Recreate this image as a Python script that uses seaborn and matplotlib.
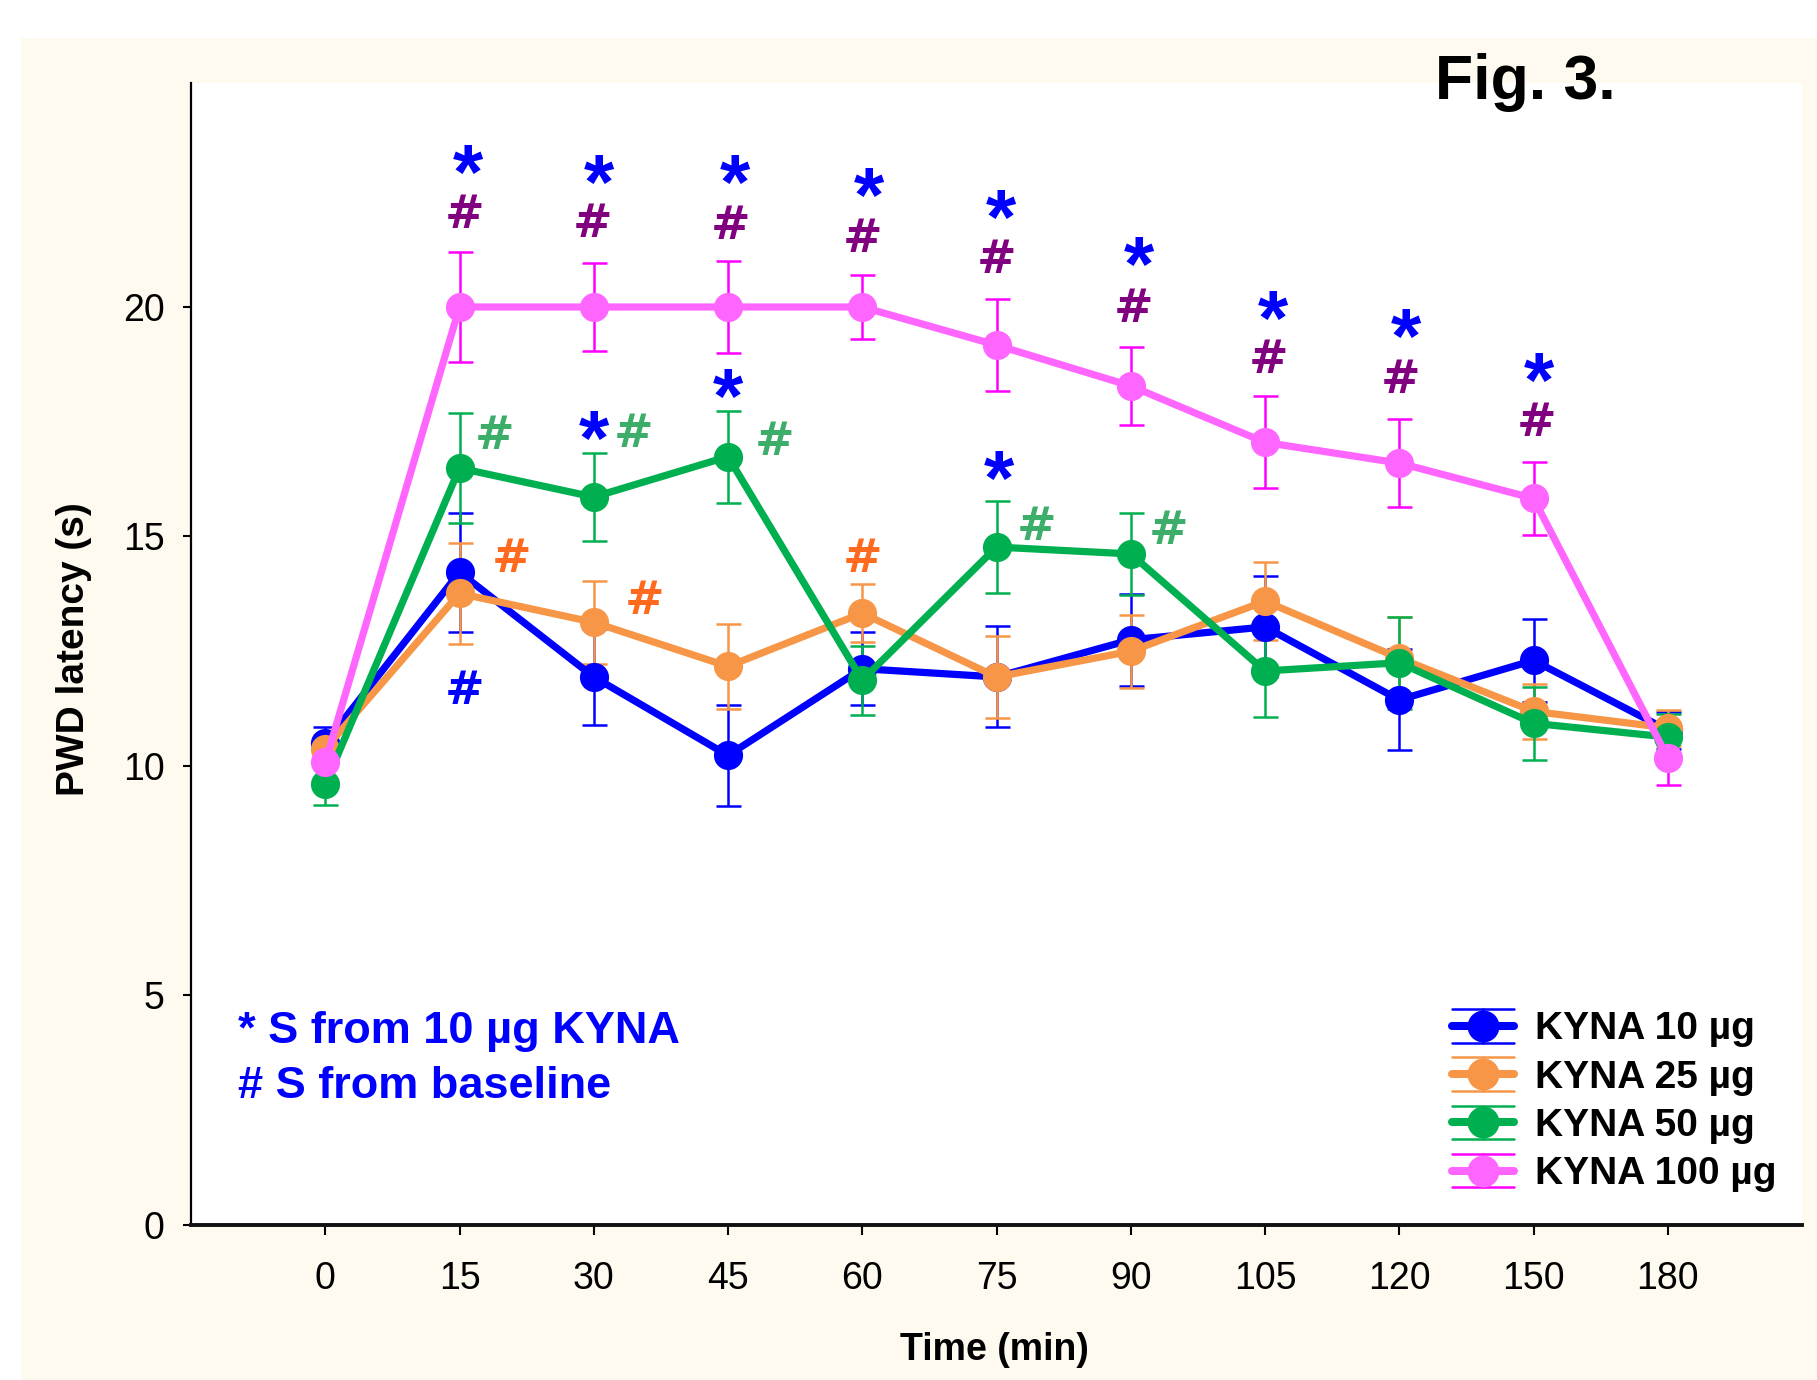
#!/usr/bin/env python3
"""Fig. 3: PWD latency over time for four KYNA doses (mean +/- SEM)."""

import matplotlib

matplotlib.use("Agg")
import matplotlib.pyplot as plt
import numpy as np
import pandas as pd
import seaborn as sns
from matplotlib.legend_handler import HandlerBase
from matplotlib.lines import Line2D
from matplotlib.patches import Rectangle

# ---- data ----
TIMES = ["0", "15", "30", "45", "60", "75", "90", "105", "120", "150", "180"]
DOSES = ["KYNA 10 µg", "KYNA 25 µg", "KYNA 50 µg", "KYNA 100 µg"]

kyna10 = [10.5, 14.22, 11.94, 10.23, 12.12, 11.94, 12.75, 13.03, 11.44, 12.30, 10.78]
kyna10_err = [0.35, 1.3, 1.05, 1.1, 0.8, 1.1, 1.0, 1.1, 1.1, 0.9, 0.4]

kyna25 = [10.38, 13.76, 13.13, 12.17, 13.33, 11.94, 12.5, 13.59, 12.35, 11.19, 10.83]
kyna25_err = [0.3, 1.1, 0.9, 0.93, 0.63, 0.9, 0.8, 0.85, 0.9, 0.6, 0.4]

kyna50 = [9.6, 16.49, 15.86, 16.74, 11.87, 14.77, 14.62, 12.07, 12.25, 10.93, 10.63]
kyna50_err = [0.45, 1.2, 0.95, 1.0, 0.75, 1.0, 0.9, 1.0, 1.0, 0.8, 0.5]

kyna100 = [10.08, 20.0, 20.0, 20.0, 20.0, 19.17, 18.28, 17.05, 16.6, 15.83, 10.18]
kyna100_err = [0.5, 1.2, 0.95, 1.0, 0.7, 1.0, 0.85, 1.0, 0.95, 0.8, 0.6]

LINE_COLORS = ["#0000FF", "#F79646", "#00B050", "#FF66FF"]
ERR_COLORS = ["#0000FF", "#F79646", "#00B050", "#FF00FF"]

# significance marks: (time index, visual centre in s, symbol, colour)
STAR_BLUE = "#0000FF"
HASH_PURPLE = "#800080"
HASH_GREEN = "#3DAE6A"
HASH_ORANGE = "#FF6A1F"
marks_x = [1.06, 1.04, 2.04, 1.99, 3.05, 3.02, 4.05, 4.0, 5.03, 5.0, 6.06, 6.02,
           7.06, 7.03, 8.05, 8.01, 9.04, 9.02,
           1.26, 2.0, 2.3, 3.0, 3.35, 5.02, 5.3, 6.28,
           1.39, 2.38, 4.0,
           1.04]
marks_y = [23.2, 22.1, 22.98, 21.9, 22.98, 21.85, 22.7, 21.57, 22.22, 21.11, 21.19, 20.05,
           20.03, 18.94, 19.62, 18.49, 18.68, 17.55,
           17.27, 17.4, 17.32, 18.33, 17.15, 16.54, 15.3, 15.2,
           14.6, 13.69, 14.6,
           11.72]
marks_sym = ["*", "#"] * 9 + ["#", "*", "#", "*", "#", "*", "#", "#"] + ["#"] * 3 + ["#"]
marks_col = ([STAR_BLUE, HASH_PURPLE] * 9
             + [HASH_GREEN, STAR_BLUE, HASH_GREEN, STAR_BLUE, HASH_GREEN, STAR_BLUE,
                HASH_GREEN, HASH_GREEN]
             + [HASH_ORANGE] * 3 + [STAR_BLUE])


class CapHandler(HandlerBase):
    """Legend key: thick line + dot with full-width error caps."""

    def create_artists(self, legend, orig_handle, xdescent, ydescent,
                       width, height, fontsize, trans):
        col = orig_handle.get_color()
        ecol = orig_handle.get_markeredgecolor()
        x0, x1 = -xdescent, -xdescent + width
        yb, yt = -ydescent, -ydescent + height
        xm, ym = (x0 + x1) / 2, (yb + yt) / 2
        arts = [
            Line2D([x0, x1], [yt, yt], color=ecol, lw=1.8),
            Line2D([x0, x1], [yb, yb], color=ecol, lw=1.8),
            Line2D([xm, xm], [yb, yt], color=ecol, lw=1.8),
            Line2D([x0, x1], [ym, ym], color=col, lw=5.8),
            Line2D([xm], [ym], marker="o", ms=23, color=col, mew=0, ls="none"),
        ]
        for a in arts:
            a.set_transform(trans)
        return arts


def main():
    sns.set_style("ticks")
    plt.rcParams["font.family"] = ["Liberation Sans", "DejaVu Sans"]
    plt.rcParams.update({"text.color": "black", "axes.labelcolor": "black",
                         "xtick.color": "black", "ytick.color": "black"})

    means = [kyna10, kyna25, kyna50, kyna100]
    errs = [kyna10_err, kyna25_err, kyna50_err, kyna100_err]
    pos = np.arange(len(TIMES))
    df = pd.DataFrame({
        "pos": np.tile(pos, len(DOSES)),
        "latency": np.concatenate(means),
        "sem": np.concatenate(errs),
        "dose": np.repeat(DOSES, len(TIMES)),
    })

    fig = plt.figure(figsize=(18.17, 13.8), dpi=100, facecolor="white")
    fig.patches.append(Rectangle((21 / 1817, 0), 1, 1 - 38 / 1380, transform=fig.transFigure,
                                 facecolor="#FFFAF0", edgecolor="none", zorder=-10))
    ax = fig.add_axes([191 / 1817, 1 - 1225 / 1380, 1611 / 1817, 1142 / 1380])
    ax.set_facecolor("white")

    for dose, ec in zip(DOSES, ERR_COLORS):
        sub = df[df["dose"] == dose]
        ax.errorbar(sub["pos"], sub["latency"], yerr=sub["sem"], fmt="none", ecolor=ec,
                    elinewidth=1.8, capsize=9, capthick=1.8, zorder=1.5)

    sns.lineplot(data=df, x="pos", y="latency", hue="dose", hue_order=DOSES,
                 palette=LINE_COLORS, marker="o", markersize=21, markeredgewidth=0,
                 linewidth=5.2, errorbar=None, sort=False, legend=False, ax=ax)

    for x, y, s, c in zip(marks_x, marks_y, marks_sym, marks_col):
        if s == "*":
            size, off, fam = 56, 0.50 * 56, ["Liberation Sans"]
        else:
            size, off, fam = 34, 0.36 * 34, ["DejaVu Sans"]
        ax.annotate(s, xy=(x, y), xytext=(0, -off), textcoords="offset points",
                    ha="center", va="baseline", fontsize=size, fontweight="bold",
                    color=c, family=fam)

    ax.set_xlim(-1, 11)
    ax.set_ylim(0, 24.88)
    ax.set_xticks(pos)
    ax.set_xticklabels(TIMES)
    ax.set_yticks([0, 5, 10, 15, 20])
    ax.tick_params(axis="x", length=7, width=1.5, pad=19, labelsize=27)
    ax.tick_params(axis="y", length=6, width=1.5, pad=13, labelsize=27)
    for sp in ("top", "right"):
        ax.spines[sp].set_visible(False)
    ax.spines["left"].set_linewidth(1.6)
    ax.spines["bottom"].set_linewidth(2.8)
    ax.spines["left"].set_color("black")
    ax.spines["bottom"].set_color("#111111")

    ax.set_xlabel("Time (min)", fontsize=27, fontweight="bold")
    ax.xaxis.label.set_va("baseline")
    ax.xaxis.set_label_coords(0.4985, -0.118)
    ax.set_ylabel("PWD latency (s)", fontsize=28, fontweight="bold")
    ax.yaxis.label.set_va("center")
    ax.yaxis.set_label_coords(-0.0725, 0.5046)

    fig.text(0.7895, 1 - 98.5 / 1380, "Fig. 3.", fontsize=45, fontweight="bold",
             ha="left", va="baseline")
    fig.text(237.5 / 1817, 1 - 1043 / 1380, "* S from 10 µg KYNA", fontsize=32.5,
             fontweight="bold", color="#0000FF", ha="left", va="baseline")
    fig.text(237.5 / 1817, 1 - 1098 / 1380, "# S from baseline", fontsize=32.5,
             fontweight="bold", color="#0000FF", ha="left", va="baseline")

    handles = [Line2D([], [], color=c, markeredgecolor=e, label=d)
               for c, e, d in zip(LINE_COLORS, ERR_COLORS, DOSES)]
    ax.legend(handles=handles, handler_map={Line2D: CapHandler()}, loc="upper left",
              bbox_to_anchor=(0.7826, 0.189), frameon=False, borderpad=0, borderaxespad=0,
              handlelength=1.6, handleheight=0.95, handletextpad=0.55, labelspacing=0.26,
              prop={"size": 28, "weight": "bold"})

    fig.savefig("out.png", dpi=100, facecolor=fig.get_facecolor())
    plt.close(fig)


if __name__ == "__main__":
    main()
